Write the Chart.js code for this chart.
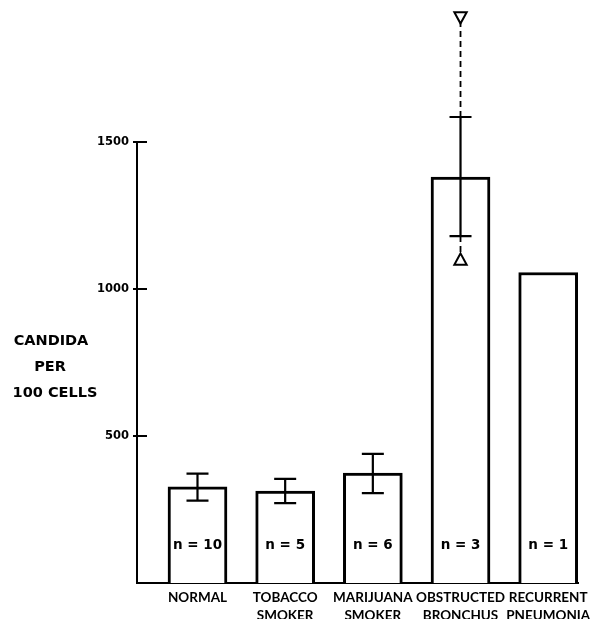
<!DOCTYPE html>
<html>
<head>
<meta charset="utf-8">
<script src="https://cdn.jsdelivr.net/npm/chart.js@4/dist/chart.umd.min.js"></script>
<style>
  body { margin: 0; background: #fff; }
  #wrap { width: 600px; height: 619px; }
</style>
</head>
<body>
<div id="wrap"><canvas id="candidaChart" width="600" height="619"></canvas></div>
<script>
// data
const categories = [['NORMAL'], ['TOBACCO', 'SMOKER'], ['MARIJUANA', 'SMOKER'], ['OBSTRUCTED', 'BRONCHUS'], ['RECURRENT', 'PNEUMONIA']];
const means = [327, 313, 374, 1381, 1056];
const errLow = [280, 272, 306, 1180, null];
const errHigh = [372, 354, 439, 1585, null];
const sampleSizes = ['n = 10', 'n = 5', 'n = 6', 'n = 3', 'n = 1'];
const rangeHigh = [1585, 1925]; // obstructed bronchus, dashed up to max
const rangeLow = [1180, 1099];  // dashed down to min
const yTicks = [0, 500, 1000, 1500];
const yTitle = ['CANDIDA', 'PER', '100 CELLS'];

const FONT = '"DejaVu Sans", sans-serif';

function triangle(ctx, x, y, r, down) {
    const s = down ? -1 : 1;
    ctx.beginPath();
    ctx.moveTo(x, y - s * r);
    ctx.lineTo(x + r * 0.95, y + s * r * 0.75);
    ctx.lineTo(x - r * 0.95, y + s * r * 0.75);
    ctx.closePath();
    ctx.fillStyle = '#fff';
    ctx.fill();
    ctx.stroke();
}

// error bars, range markers, inward ticks, n labels and y title
const extras = {
    id: 'extras',
    afterDatasetsDraw(chart) {
        const ctx = chart.ctx;
        const x = chart.scales.x;
        const y = chart.scales.y;
        const meta = chart.getDatasetMeta(0);
        const area = chart.chartArea;
        ctx.save();
        ctx.strokeStyle = '#000';
        ctx.lineWidth = 2.2;
        meta.data.forEach((bar, i) => {
            if (errLow[i] == null) return;
            const top = y.getPixelForValue(errHigh[i]);
            const bot = y.getPixelForValue(errLow[i]);
            ctx.beginPath();
            ctx.moveTo(bar.x, top); ctx.lineTo(bar.x, bot);
            ctx.moveTo(bar.x - 11, top); ctx.lineTo(bar.x + 11, top);
            ctx.moveTo(bar.x - 11, bot); ctx.lineTo(bar.x + 11, bot);
            ctx.stroke();
        });
        // min / max markers for obstructed bronchus
        ctx.lineWidth = 2;
        const px = x.getPixelForValue(3);
        triangle(ctx, px, y.getPixelForValue(rangeHigh[1]), 6.5, true);
        triangle(ctx, px, y.getPixelForValue(rangeLow[1]), 6.5, false);
        // n labels inside bars
        ctx.fillStyle = '#000';
        ctx.font = 'bold 13.5px ' + FONT;
        ctx.textAlign = 'center';
        ctx.textBaseline = 'middle';
        meta.data.forEach((bar, i) => {
            ctx.fillText(sampleSizes[i], bar.x, area.bottom - 38);
        });
        // ticks pointing into the plot
        yTicks.forEach(v => {
            if (v === 0) return;
            const py = y.getPixelForValue(v);
            ctx.beginPath();
            ctx.moveTo(area.left - 4, py);
            ctx.lineTo(area.left + 10, py);
            ctx.stroke();
        });
        // y title
        ctx.font = 'bold 14.5px ' + FONT;
        ctx.fillText(yTitle[0], 51, 341);
        ctx.fillText(yTitle[1], 50, 367);
        ctx.fillText(yTitle[2], 55, 393);
        ctx.restore();
    }
};

const ctx = document.getElementById('candidaChart').getContext('2d');

new Chart(ctx, {
    type: 'bar',
    data: {
        datasets: [{
            data: means.map((v, i) => ({ x: i, y: v })),
            backgroundColor: '#fff',
            borderColor: '#000',
            borderWidth: 3,
            barThickness: 59,
            order: 2
        }, {
            type: 'line',
            data: rangeHigh.map(v => ({ x: 3, y: v })),
            borderColor: '#000',
            borderWidth: 1.8,
            borderDash: [6, 4],
            pointRadius: 0,
            clip: false,
            order: 1
        }, {
            type: 'line',
            data: rangeLow.map(v => ({ x: 3, y: v })),
            borderColor: '#000',
            borderWidth: 1.8,
            borderDash: [6, 4],
            pointRadius: 0,
            clip: false,
            order: 1
        }]
    },
    options: {
        responsive: false,
        animation: false,
        layout: { padding: { top: 142, right: 22, left: 0, bottom: 0 } },
        plugins: { legend: { display: false }, tooltip: { enabled: false } },
        scales: {
            x: {
                type: 'linear',
                offset: false,
                min: -0.69,
                max: 4.34,
                grid: { display: false, drawTicks: false },
                border: { display: true, color: '#000', width: 2 },
                afterBuildTicks: scale => { scale.ticks = categories.map((c, i) => ({ value: i })); },
                afterFit: scale => { scale.height = 36; },
                ticks: {
                    autoSkip: false,
                    maxRotation: 0,
                    padding: 6,
                    color: '#000',
                    font: { family: 'Lato, sans-serif', weight: 'bold', size: 13.5, lineHeight: 1.33 },
                    callback: v => categories[Math.round(v)]
                }
            },
            y: {
                min: 0,
                max: 1500,
                grid: { display: false, drawTicks: false },
                border: { display: true, color: '#000', width: 2 },
                afterBuildTicks: scale => { scale.ticks = yTicks.map(v => ({ value: v })); },
                afterFit: scale => { scale.width = 137; },
                ticks: {
                    padding: 8,
                    color: '#000',
                    font: { family: FONT, weight: 'bold', size: 11.5 },
                    callback: v => (v === 0 ? '' : String(v))
                }
            }
        }
    },
    plugins: [extras]
});
</script>
</body>
</html>
